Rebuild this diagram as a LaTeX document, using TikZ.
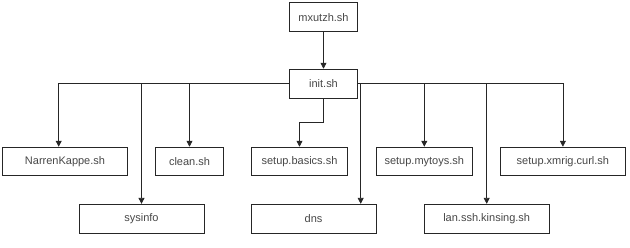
\documentclass[tikz,border=0pt]{standalone}
\usepackage{fontspec}
\setmainfont{Liberation Sans}
\usetikzlibrary{arrows.meta}
\begin{document}
\begin{tikzpicture}[x=1pt,y=-1pt,
  box/.style={draw=black!85, line width=0.9pt, fill=white, text=black!72, font=\fontsize{11}{13}\selectfont,
    inner sep=0pt, minimum height=29pt},
  wbox/.style={box, minimum width=125pt},
  mbox/.style={box, minimum width=96.5pt},
  sbox/.style={box, minimum width=67.5pt},
  arr/.style={draw=black!85, line width=0.8pt, -{Triangle[length=6pt,width=6pt]}},
  ln/.style={draw=black!85, line width=0.8pt}]
\useasboundingbox (0,0) rectangle (630,247);
\node[sbox] (mx) at (323.5,17.2) {mxutzh.sh};
\node[sbox] (init) at (323.5,83.7) {init.sh};
\node[wbox, minimum height=28pt] (nk) at (65,161.2) {NarrenKappe.sh};
\node[sbox, minimum height=28pt] (clean) at (189.5,161.2) {clean.sh};
\node[mbox, minimum height=28pt] (basics) at (299.5,161.2) {setup.basics.sh};
\node[mbox, minimum height=28pt] (toys) at (424.3,161.2) {setup.mytoys.sh};
\node[wbox, minimum height=28pt] (xm) at (562.9,161.2) {setup.xmrig.curl.sh};
\node[wbox] (sys) at (141.5,218.8) {sysinfo};
\node[wbox] (dns) at (313.5,218.8) {dns};
\node[wbox] (lan) at (486.7,218.8) {lan.ssh.kinsing.sh};
\draw[arr] (mx.south) -- (init.north);
\draw[arr] (init.west) -| ([xshift=-6.3pt]nk.north);
\draw[arr] (init.west) -| (sys.north);
\draw[arr] (init.west) -| (clean.north);
\draw[arr] (init.south) -- ++(0,23.4) -| (basics.north);
\draw[arr] (init.east) -| ([xshift=47.2pt]dns.north);
\draw[arr] (init.east) -| (toys.north);
\draw[arr] (init.east) -| (lan.north);
\draw[arr] (init.east) -| (xm.north);
\end{tikzpicture}
\end{document}
